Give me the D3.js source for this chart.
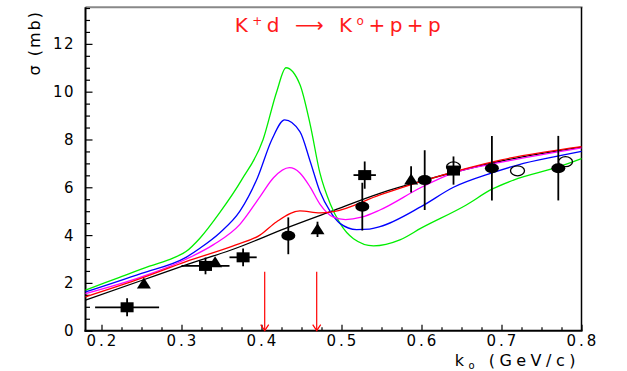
<!DOCTYPE html>
<html>
<head>
<meta charset="utf-8">
<script src="https://cdn.jsdelivr.net/npm/d3@7"></script>
<style>
  body { margin: 0; background: #fff; }
  text { font-family: "DejaVu Sans", sans-serif; }
</style>
</head>
<body>
<div id="chart"></div>
<script>

// curves
let black_k = [0.18, 0.25, 0.3056, 0.368, 0.43, 0.486, 0.548, 0.604, 0.7, 0.8]
let black_s = [1.28, 2.1, 2.75, 3.45, 4.28, 4.98, 5.75, 6.3, 7.1, 7.68]

let red_k = [0.18, 0.25, 0.3056, 0.368, 0.398, 0.419, 0.448, 0.473, 0.49, 0.548, 0.6, 0.7, 0.8]
let red_s = [1.42, 2.2, 2.89, 3.59, 4.0, 4.56, 5.01, 4.93, 4.98, 5.68, 6.25, 7.15, 7.7]

let magenta_k = [0.18, 0.25, 0.3056, 0.34, 0.373, 0.398, 0.415, 0.435, 0.448, 0.461, 0.473, 0.49, 0.505, 0.525, 0.548, 0.6, 0.64, 0.7, 0.8]
let magenta_s = [1.55, 2.25, 2.99, 3.6, 4.45, 5.6, 6.4, 6.82, 6.6, 6.0, 5.3, 4.75, 4.65, 4.75, 5.05, 6.0, 6.6, 7.05, 7.65]

let blue_k = [0.18, 0.25, 0.3056, 0.323, 0.348, 0.373, 0.395, 0.413, 0.429, 0.448, 0.461, 0.473, 0.486, 0.498, 0.519, 0.535, 0.548, 0.6, 0.64, 0.688, 0.72, 0.77, 0.8]
let blue_s = [1.62, 2.4, 3.07, 3.45, 4.1, 5.0, 6.4, 8.0, 8.82, 8.33, 7.07, 5.82, 4.98, 4.49, 4.23, 4.25, 4.35, 5.2, 6.0, 6.6, 6.93, 7.3, 7.5]

let green_k = [0.18, 0.22, 0.26, 0.29, 0.3056, 0.323, 0.348, 0.375, 0.402, 0.419, 0.4306, 0.448, 0.461, 0.473, 0.486, 0.498, 0.515, 0.54, 0.573, 0.6, 0.656, 0.688, 0.715, 0.771, 0.8]
let green_s = [1.7, 2.2, 2.7, 3.05, 3.31, 3.87, 4.95, 6.3, 8.0, 10.0, 11.0, 10.3, 8.6, 6.6, 5.3, 4.5, 3.85, 3.55, 3.8, 4.3, 5.26, 5.92, 6.3, 6.85, 7.2]

// data points
let sq_k = [0.232, 0.330, 0.377, 0.529, 0.640]
let sq_s = [0.98, 2.71, 3.07, 6.51, 6.70]
let sq_dk = [0.04, 0.03, 0.017, 0.014, 0]
let sq_ds = [0.38, 0.35, 0.37, 0.57, 0.59]

let tri_k = [0.253, 0.342, 0.470, 0.587]
let tri_s = [1.97, 2.86, 4.24, 6.33]
let tri_ds = [0, 0, 0.32, 0.55]

let circ_k = [0.4335, 0.526, 0.604, 0.688, 0.771]
let circ_s = [3.97, 5.19, 6.30, 6.80, 6.80]
let circ_ds = [0.77, 1.0, 1.25, 1.35, 1.35]

let open_k = [0.640, 0.720, 0.780]
let open_s = [6.85, 6.69, 7.07]

let arrow_k = [0.404, 0.469]
let arrow_top = 2.47

let x_ticks = [0.2, 0.3, 0.4, 0.5, 0.6, 0.7, 0.8]
let y_ticks = [0, 2, 4, 6, 8, 10, 12]

let width = 627, height = 371

let svg = d3.select('#chart').append('svg')
.attr('width', width)
.attr('height', height)

let x = d3.scaleLinear().domain([0.18, 0.8]).range([85.5, 581.5])
let y = d3.scaleLinear().domain([0, 13.53]).range([330.7, 7.3])

// frame top and right
svg.append('line')
.attr('x1', x(0.18)).attr('x2', x(0.8) + 1)
.attr('y1', y(13.53)).attr('y2', y(13.53))
.style('stroke', '#888').style('stroke-width', 2)

svg.append('line')
.attr('x1', x(0.8)).attr('x2', x(0.8))
.attr('y1', y(13.53)).attr('y2', y(0))
.style('stroke', '#000').style('stroke-width', 1.5)

// y axis with minor ticks
let y_axis = svg.append('g')
.attr('transform', 'translate(' + x(0.18) + ',0)')
.call(d3.axisRight(y).tickValues(d3.range(0, 13.6, 0.5)).tickSize(4.5).tickFormat(''))

y_axis.selectAll('.tick line')
.filter(d => d % 2 == 0)
.attr('x2', 7)

y_axis.select('.domain').remove()

y_axis.selectAll('.tick line').style('stroke', '#000').style('stroke-width', 1.2)

svg.append('line')
.attr('x1', x(0.18)).attr('x2', x(0.18))
.attr('y1', y(13.53)).attr('y2', y(0) + 1)
.style('stroke', '#000').style('stroke-width', 2)

svg.selectAll('.ylab')
.data(y_ticks)
.join('text')
.attr('class', 'ylab')
.attr('x', 75)
.attr('y', d => y(d) + 5.5)
.attr('text-anchor', 'end')
.style('font-size', '15px')
.style('letter-spacing', '1.5px')
.text(d => d)

// x axis
let x_axis = svg.append('g')
.attr('transform', 'translate(0,' + y(0) + ')')
.call(d3.axisTop(x).tickValues(d3.range(0.2, 0.801, 0.025)).tickSize(3.5).tickFormat(''))

x_axis.select('.domain').remove()

x_axis.selectAll('.tick line')
.filter(d => Math.abs(d * 10 - Math.round(d * 10)) < 0.001)
.attr('y2', -6)

x_axis.selectAll('.tick line').style('stroke', '#000').style('stroke-width', 1.2)

svg.append('line')
.attr('x1', x(0.18) - 1).attr('x2', x(0.8) + 1)
.attr('y1', y(0)).attr('y2', y(0))
.style('stroke', '#000').style('stroke-width', 2)

svg.selectAll('.xlab')
.data(x_ticks)
.join('text')
.attr('class', 'xlab')
.attr('x', d => x(d) + 1.5)
.attr('y', 346)
.attr('text-anchor', 'middle')
.style('font-size', '15px')
.style('letter-spacing', '3px')
.text(d => d.toFixed(1))

// axis titles
let xt = svg.append('text')
.attr('x', 580)
.attr('y', 366)
.attr('text-anchor', 'end')
.style('font-size', '16px')
.style('letter-spacing', '4.5px')

xt.append('tspan').text('k')
xt.append('tspan').attr('dy', 3).style('font-size', '10px').text('o')
xt.append('tspan').attr('dy', -3).text(' (GeV/c)')

svg.append('text')
.attr('transform', 'translate(40,10) rotate(-90)')
.attr('text-anchor', 'end')
.style('font-size', '16px')
.style('letter-spacing', '2px')
.text('σ (mb)')

// title
let title = svg.append('text')
.attr('x', 340)
.attr('y', 32)
.attr('text-anchor', 'middle')
.style('font-size', '20px')
.style('letter-spacing', '4.5px')
.style('fill', '#ff1a1a')

title.append('tspan').text('K')
title.append('tspan').attr('dy', -7).style('font-size', '12px').text('+')
title.append('tspan').attr('dy', 7).text('d ⟶ K')
title.append('tspan').attr('dy', -7).style('font-size', '12px').text('o')
title.append('tspan').attr('dy', 7).text('+p+p')

// model curves
let line = d3.line()
.x(d => x(d[0]))
.y(d => y(d[1]))
.curve(d3.curveMonotoneX)

let curves = [
  [black_k, black_s, '#000000'],
  [green_k, green_s, '#00ee00'],
  [blue_k, blue_s, '#0000ff'],
  [magenta_k, magenta_s, '#ff00ff'],
  [red_k, red_s, '#ff0000'],
]

curves.forEach((c) => {
  svg.append('path')
  .datum(d3.zip(c[0], c[1]))
  .attr('d', line)
  .style('fill', 'none')
  .style('stroke', c[2])
  .style('stroke-width', 1.3)
})

// error bars
let eb = svg.append('g').style('stroke', '#000').style('stroke-width', 1.8)

sq_k.forEach((k, i) => {
  if (sq_dk[i] > 0) {
    eb.append('line')
    .attr('x1', x(k - sq_dk[i])).attr('x2', x(k + sq_dk[i]))
    .attr('y1', y(sq_s[i])).attr('y2', y(sq_s[i]))
  }
  eb.append('line')
  .attr('x1', x(k)).attr('x2', x(k))
  .attr('y1', y(sq_s[i] - sq_ds[i])).attr('y2', y(sq_s[i] + sq_ds[i]))
})

tri_k.forEach((k, i) => {
  if (tri_ds[i] > 0) {
    eb.append('line')
    .attr('x1', x(k)).attr('x2', x(k))
    .attr('y1', y(tri_s[i] - tri_ds[i])).attr('y2', y(tri_s[i] + tri_ds[i]))
  }
})

circ_k.forEach((k, i) => {
  eb.append('line')
  .attr('x1', x(k)).attr('x2', x(k))
  .attr('y1', y(circ_s[i] - circ_ds[i])).attr('y2', y(circ_s[i] + circ_ds[i]))
})

// markers
svg.selectAll('.sq')
.data(d3.zip(sq_k, sq_s))
.join('rect')
.attr('class', 'sq')
.attr('x', d => x(d[0]) - 6.5)
.attr('y', d => y(d[1]) - 5)
.attr('width', 13)
.attr('height', 10)
.style('fill', '#000')

svg.selectAll('.tri')
.data(d3.zip(tri_k, tri_s))
.join('path')
.attr('class', 'tri')
.attr('d', d => {
  let cx = x(d[0]), cy = y(d[1])
  return 'M' + (cx - 7) + ',' + (cy + 5) + 'L' + (cx + 7) + ',' + (cy + 5) + 'L' + cx + ',' + (cy - 6) + 'Z'
})
.style('fill', '#000')

svg.selectAll('.circ')
.data(d3.zip(circ_k, circ_s))
.join('ellipse')
.attr('class', 'circ')
.attr('cx', d => x(d[0]))
.attr('cy', d => y(d[1]))
.attr('rx', 7)
.attr('ry', 5)
.style('fill', '#000')

svg.selectAll('.open')
.data(d3.zip(open_k, open_s))
.join('ellipse')
.attr('class', 'open')
.attr('cx', d => x(d[0]))
.attr('cy', d => y(d[1]))
.attr('rx', 7)
.attr('ry', 5)
.style('fill', 'none')
.style('stroke', '#000')
.style('stroke-width', 1.3)

// red arrows at the resonance positions
let arr = svg.append('g').style('stroke', '#ff0000').style('stroke-width', 1.2).style('fill', 'none')

arrow_k.forEach((k) => {
  arr.append('line')
  .attr('x1', x(k)).attr('x2', x(k))
  .attr('y1', y(arrow_top)).attr('y2', y(0))
  arr.append('path')
  .attr('d', 'M' + (x(k) - 4) + ',' + (y(0) - 6) + 'L' + x(k) + ',' + y(0) + 'L' + (x(k) + 4) + ',' + (y(0) - 6))
})

</script>
</body>
</html>
